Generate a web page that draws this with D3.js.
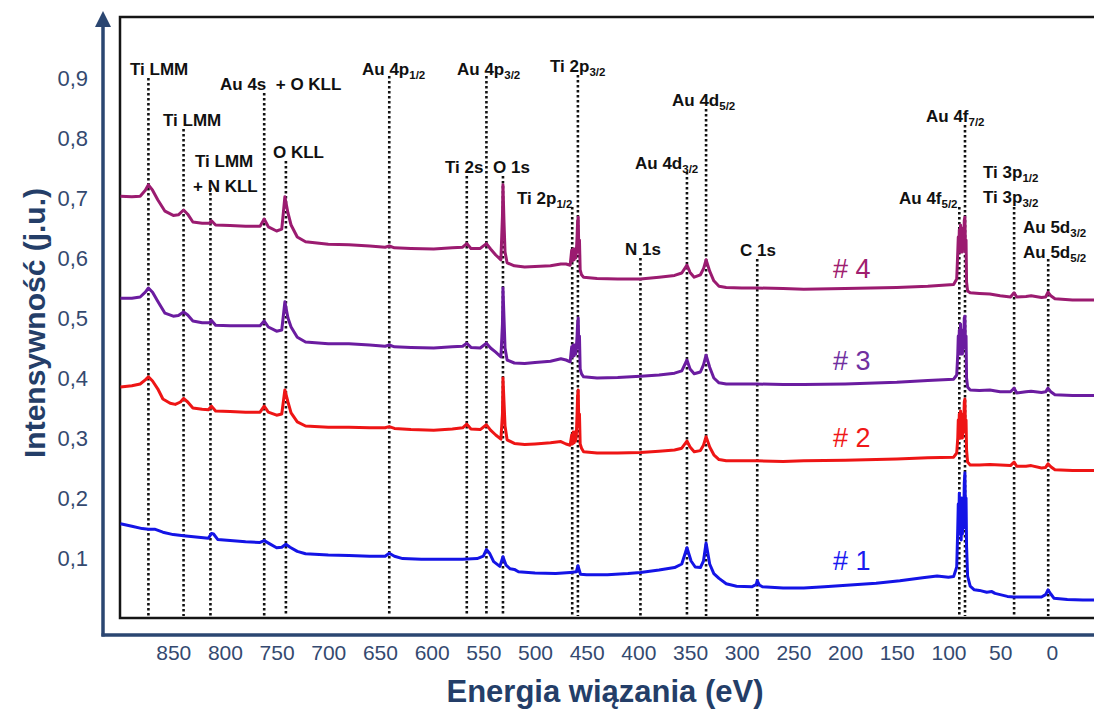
<!DOCTYPE html>
<html><head><meta charset="utf-8">
<script src="https://cdn.jsdelivr.net/npm/d3@7"></script>
<style>
html,body{margin:0;padding:0;background:#fff;}
svg{display:block;font-family:"Liberation Sans",Arial,sans-serif;}
text{white-space:pre;}
</style></head>
<body><svg id="c" width="1094" height="711"></svg>
<script>
// ---- data ----
const xTicks = [850,800,750,700,650,600,550,500,450,400,350,300,250,200,150,100,50,0];
const yTicks = [0.1,0.2,0.3,0.4,0.5,0.6,0.7,0.8,0.9];
const seriesNames = ["# 1","# 2","# 3","# 4"];
const spectrum1 = [[901,0.157],[890,0.153],[880,0.149],[874,0.148],[868,0.148],[860,0.143],[850,0.139],[840,0.137],[828,0.135],[816,0.133],[813,0.141],[811,0.14],[807,0.131],[795,0.129],[780,0.127],[766,0.126],[762,0.129],[757,0.124],[750,0.117],[745,0.118],[741,0.123],[737,0.118],[730,0.111],[722,0.107],[700,0.105],[680,0.104],[660,0.103],[645,0.103],[641,0.108],[636,0.103],[628,0.099],[610,0.098],[590,0.098],[570,0.098],[556,0.099],[550,0.103],[547,0.114],[544,0.108],[540,0.094],[534,0.086],[531,0.102],[528,0.088],[524,0.082],[520,0.081],[516,0.077],[500,0.075],[480,0.074],[466,0.076],[460,0.077],[458.5,0.087],[456,0.073],[450,0.072],[430,0.072],[410,0.074],[398,0.076],[380,0.08],[365,0.084],[358,0.09],[353,0.117],[349,0.095],[345,0.085],[340,0.084],[337,0.095],[334.5,0.125],[331,0.09],[327,0.074],[322,0.066],[315,0.057],[305,0.053],[290,0.052],[286,0.056],[285,0.062],[283,0.055],[280,0.052],[260,0.05],[240,0.05],[220,0.052],[195,0.055],[170,0.058],[147,0.062],[125,0.067],[111,0.07],[100,0.068],[95,0.069],[92,0.085],[91,0.15],[90.5,0.19],[90,0.15],[89.5,0.208],[88.9,0.14],[88.3,0.2],[87.7,0.13],[87.1,0.2],[86.5,0.14],[85.9,0.19],[85.3,0.15],[84.7,0.225],[84.1,0.242],[83.5,0.17],[83,0.2],[82.5,0.12],[81.5,0.07],[79,0.053],[75,0.047],[70,0.046],[63,0.043],[58,0.044],[55,0.041],[50,0.039],[43,0.036],[37,0.035],[25,0.035],[10,0.035],[6,0.039],[3.7,0.047],[1,0.04],[-2,0.033],[-15,0.031],[-30,0.03],[-41,0.03]];
const spectrum2 = [[901,0.385],[890,0.387],[882,0.39],[877,0.397],[874,0.402],[870,0.395],[865,0.382],[860,0.365],[853,0.358],[848,0.356],[843,0.36],[840,0.366],[836,0.36],[831,0.35],[822,0.348],[816,0.347],[813,0.353],[809,0.345],[795,0.344],[780,0.343],[766,0.343],[762,0.353],[758,0.343],[750,0.338],[745,0.34],[742,0.38],[739,0.36],[736,0.342],[730,0.327],[722,0.32],[700,0.318],[680,0.318],[660,0.317],[645,0.317],[641,0.319],[636,0.316],[620,0.314],[598,0.313],[580,0.315],[570,0.317],[566,0.323],[562,0.315],[553,0.314],[547,0.322],[543,0.313],[538,0.305],[533,0.298],[531.5,0.34],[531,0.4],[530,0.36],[529,0.32],[527,0.297],[520,0.291],[510,0.289],[500,0.29],[485,0.292],[475,0.294],[470,0.29],[466,0.288],[464.5,0.305],[463.8,0.29],[463,0.31],[462.2,0.292],[461.5,0.31],[460.7,0.295],[460,0.305],[459.3,0.34],[458.8,0.37],[458.2,0.38],[457.6,0.32],[457,0.34],[456.3,0.29],[455,0.283],[453,0.277],[440,0.275],[420,0.275],[398,0.276],[380,0.278],[365,0.28],[358,0.283],[353,0.295],[350,0.285],[346,0.277],[340,0.279],[337,0.288],[334.5,0.302],[331,0.285],[327,0.272],[322,0.264],[315,0.262],[300,0.262],[285,0.262],[260,0.261],[240,0.262],[200,0.263],[150,0.265],[120,0.267],[95,0.268],[92,0.275],[91,0.3],[90.5,0.33],[90,0.3],[89.5,0.34],[88.9,0.3],[88.3,0.345],[87.7,0.3],[87.1,0.34],[86.5,0.3],[85.9,0.34],[85.3,0.31],[84.7,0.36],[84.1,0.365],[83.5,0.31],[83,0.33],[82.5,0.28],[81.5,0.26],[79,0.255],[70,0.255],[60,0.256],[50,0.255],[40,0.254],[36.5,0.26],[34,0.253],[25,0.253],[20,0.254],[10,0.25],[6,0.251],[3.7,0.257],[1,0.252],[-3,0.247],[-20,0.246],[-41,0.246]];
const spectrum3 = [[901,0.533],[890,0.533],[882,0.535],[877,0.543],[874,0.55],[870,0.543],[865,0.528],[858,0.508],[850,0.503],[845,0.504],[840,0.51],[836,0.505],[831,0.495],[822,0.492],[815,0.492],[813,0.496],[809,0.488],[795,0.487],[780,0.487],[766,0.487],[762,0.495],[758,0.485],[750,0.478],[745,0.48],[742,0.527],[739,0.5],[736,0.485],[730,0.468],[722,0.46],[700,0.457],[680,0.457],[660,0.455],[645,0.453],[641,0.455],[636,0.452],[620,0.451],[598,0.45],[580,0.452],[570,0.453],[566,0.458],[562,0.451],[553,0.45],[547,0.458],[543,0.45],[538,0.443],[533,0.435],[531.5,0.49],[531,0.55],[530,0.5],[529,0.45],[527,0.43],[520,0.425],[510,0.424],[500,0.426],[485,0.428],[475,0.432],[470,0.43],[466,0.427],[464.5,0.452],[463.8,0.435],[463,0.455],[462.2,0.437],[461.5,0.455],[460.7,0.44],[460,0.45],[459.3,0.47],[458.8,0.49],[458.2,0.5],[457.6,0.45],[457,0.47],[456.3,0.415],[455,0.407],[453,0.402],[440,0.4],[420,0.401],[398,0.403],[380,0.405],[365,0.408],[358,0.412],[353,0.43],[350,0.415],[346,0.407],[340,0.41],[337,0.422],[334.5,0.438],[331,0.418],[327,0.4],[322,0.392],[315,0.39],[300,0.39],[285,0.39],[260,0.389],[240,0.389],[200,0.39],[150,0.393],[120,0.396],[95,0.398],[92,0.405],[91,0.44],[90.5,0.47],[90,0.44],[89.5,0.48],[88.9,0.44],[88.3,0.49],[87.7,0.44],[87.1,0.48],[86.5,0.44],[85.9,0.48],[85.3,0.45],[84.7,0.5],[84.1,0.503],[83.5,0.45],[83,0.47],[82.5,0.4],[81.5,0.385],[79,0.38],[70,0.379],[60,0.38],[50,0.377],[40,0.377],[36.5,0.383],[34,0.375],[25,0.377],[20,0.378],[10,0.376],[6,0.377],[3.7,0.383],[1,0.377],[-3,0.372],[-20,0.371],[-41,0.371]];
const spectrum4 = [[901,0.703],[890,0.702],[882,0.703],[877,0.713],[874,0.722],[870,0.713],[865,0.697],[858,0.678],[850,0.671],[845,0.672],[840,0.68],[836,0.673],[831,0.66],[822,0.658],[815,0.658],[813,0.662],[809,0.655],[795,0.654],[780,0.653],[766,0.653],[762,0.665],[758,0.652],[750,0.645],[745,0.648],[742,0.702],[739,0.675],[736,0.655],[730,0.635],[722,0.627],[700,0.623],[680,0.622],[660,0.62],[645,0.618],[641,0.62],[636,0.617],[620,0.616],[598,0.615],[580,0.617],[570,0.618],[566,0.624],[562,0.616],[553,0.616],[547,0.624],[543,0.615],[538,0.605],[533,0.597],[531.5,0.67],[531,0.722],[530,0.66],[529,0.61],[527,0.592],[520,0.587],[510,0.585],[500,0.586],[485,0.587],[475,0.59],[470,0.59],[466,0.588],[464.5,0.613],[463.8,0.595],[463,0.615],[462.2,0.597],[461.5,0.615],[460.7,0.6],[460,0.61],[459.3,0.635],[458.8,0.66],[458.2,0.668],[457.6,0.61],[457,0.63],[456.3,0.58],[455,0.572],[453,0.568],[440,0.566],[420,0.565],[398,0.565],[380,0.568],[365,0.571],[358,0.575],[353,0.588],[350,0.576],[346,0.568],[340,0.572],[337,0.582],[334.5,0.597],[331,0.578],[327,0.562],[322,0.553],[315,0.551],[300,0.55],[285,0.55],[260,0.549],[240,0.548],[200,0.549],[150,0.551],[120,0.553],[95,0.556],[92,0.565],[91,0.61],[90.5,0.635],[90,0.61],[89.5,0.647],[88.9,0.61],[88.3,0.655],[87.7,0.61],[87.1,0.65],[86.5,0.61],[85.9,0.65],[85.3,0.62],[84.7,0.663],[84.1,0.668],[83.5,0.61],[83,0.63],[82.5,0.56],[81.5,0.545],[79,0.542],[70,0.541],[60,0.54],[50,0.537],[40,0.535],[36.5,0.542],[34,0.535],[25,0.536],[20,0.537],[10,0.534],[6,0.535],[3.7,0.543],[1,0.537],[-3,0.532],[-20,0.53],[-41,0.53]];
const peakEnergies = [874,840,814,762,741,641,547,566,531,464,458.5,353,334.5,398,285,89.5,84,36.5,3.5];
const peakLabels = [
  [["Ti LMM",""]],[["Ti LMM",""]],[["Ti LMM",""],["+ N KLL",""]],[["Au 4s  + O KLL",""]],[["O KLL",""]],
  [["Au 4p","1/2"]],[["Au 4p","3/2"]],[["Ti 2s",""]],[["O 1s",""]],[["Ti 2p","1/2"]],[["Ti 2p","3/2"]],
  [["Au 4d","3/2"]],[["Au 4d","5/2"]],[["N 1s",""]],[["C 1s",""]],[["Au 4f","5/2"]],[["Au 4f","7/2"]],
  [["Ti 3p","1/2"],["Ti 3p","3/2"]],[["Au 5d","3/2"],["Au 5d","5/2"]]
];
// ---- layout (label placement) ----
const labelX = [130,163,195,220,273,362,457,445,493,517,550,635,672,625,740,899,926,983,1023];
const labelY = [75,126,167,90,158,75,75,173,173,204,72,169,106,255,256,204,122,178,233];
const lineTop = [78,129,188,93,161,76,76,176,176,207,75,172,109,258,259,207,125,207,259];
const seriesColors = ["#1414E6","#EE1515","#6B1CA0","#9B1B70"];
const labelColors = ["#1A1AF0","#F01818","#7030A0","#A0206F"];
const seriesLabelY = [570,447,370,278];

const svg = d3.select("#c");
const M = {l:120, r:1094, t:17, b:618};
const x = d3.scaleLinear().domain([901.5,-40.8]).range([M.l, M.r]);
const y = d3.scaleLinear().domain([0,1]).range([M.b, 18]);

svg.append("defs").append("clipPath").attr("id","clip")
  .append("rect").attr("x",M.l).attr("y",M.t).attr("width",M.r-M.l+10).attr("height",M.b-M.t);

// black plot frame
svg.append("rect").attr("x",M.l).attr("y",M.t).attr("width",M.r-M.l+20).attr("height",M.b-M.t)
  .attr("fill","none").attr("stroke","#151515").attr("stroke-width",2.5);

// blue axis frame
const axC = "#2B4671";
svg.append("line").attr("x1",103).attr("x2",103).attr("y1",24).attr("y2",636.5)
  .attr("stroke",axC).attr("stroke-width",3.5);
svg.append("line").attr("x1",101.5).attr("x2",1094).attr("y1",635).attr("y2",635)
  .attr("stroke",axC).attr("stroke-width",3.5);
svg.append("path").attr("d","M103,11 L95,27 L111,27 Z").attr("fill",axC);

// dotted peak lines
svg.append("g").selectAll("line").data(peakEnergies).join("line")
  .attr("x1",d=>x(d)).attr("x2",d=>x(d))
  .attr("y1",(d,i)=>lineTop[i]).attr("y2",M.b-2)
  .attr("stroke","#111").attr("stroke-width",2.6).attr("stroke-dasharray","2.4,2.6");

// spectra
const line = d3.line().x(d=>x(d[0])).y(d=>y(d[1]));
const spectra = [spectrum1,spectrum2,spectrum3,spectrum4];
svg.append("g").attr("clip-path","url(#clip)").selectAll("path").data(spectra).join("path")
  .attr("d",line).attr("fill","none").attr("stroke",(d,i)=>seriesColors[i])
  .attr("stroke-width",3).attr("stroke-linejoin","round");

// peak labels
const lg = svg.append("g").attr("font-weight","bold").attr("font-size",17).attr("fill","#111");
peakLabels.forEach((rows,i)=>{
  rows.forEach((r,j)=>{
    const t = lg.append("text").attr("x",labelX[i] - (i===2&&j===1?2:0)).attr("y",labelY[i]+j*25);
    t.append("tspan").text(r[0]);
    if (r[1]) t.append("tspan").attr("font-size",11.5).attr("dy",4).text(r[1]);
  });
});

// series labels
svg.append("g").selectAll("text").data(seriesNames).join("text")
  .attr("x",833).attr("y",(d,i)=>seriesLabelY[i]).attr("font-size",27)
  .attr("fill",(d,i)=>labelColors[i]).text(d=>d);

// axes
const tickC = "#34496F";
const xa = svg.append("g").attr("transform","translate(0,645)")
  .call(d3.axisBottom(x).tickValues(xTicks).tickSize(0).tickPadding(0).tickFormat(d3.format("d")));
xa.select(".domain").remove();
xa.selectAll("text").attr("font-size",21).attr("fill",tickC).attr("font-family","Liberation Sans, Arial, sans-serif").attr("dy","0.71em");

const ya = svg.append("g").attr("transform","translate(88,0)")
  .call(d3.axisLeft(y).tickValues(yTicks).tickSize(0).tickPadding(0).tickFormat(d=>d3.format(".1f")(d).replace(".",",")));
ya.select(".domain").remove();
ya.selectAll("text").attr("font-size",22).attr("fill",tickC).attr("font-family","Liberation Sans, Arial, sans-serif");

// titles
const titleC = "#243E68";
svg.append("text").attr("x",605).attr("y",702).attr("text-anchor","middle")
  .attr("font-size",31).attr("font-weight","bold").attr("fill",titleC).text("Energia wiązania (eV)");
svg.append("text").attr("transform","translate(45,323) rotate(-90)").attr("text-anchor","middle")
  .attr("font-size",30).attr("font-weight","bold").attr("fill",titleC).text("Intensywność (j.u.)");
</script></body></html>
